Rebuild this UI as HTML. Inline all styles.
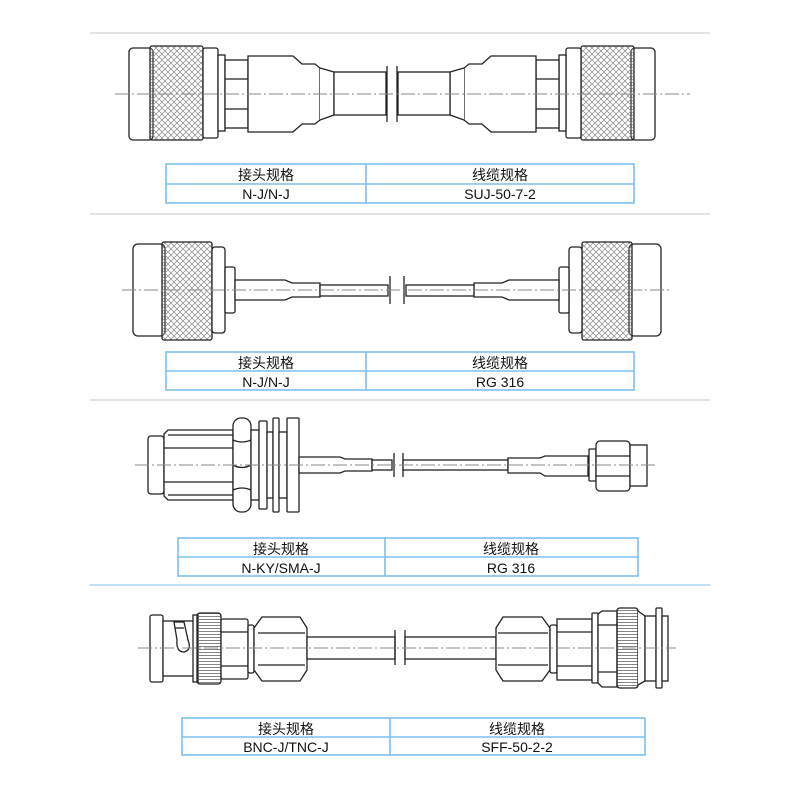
<!DOCTYPE html>
<html><head><meta charset="utf-8"><style>
html,body{margin:0;padding:0;background:#fff}
svg{display:block}
text{font-family:"Liberation Sans","Noto Sans CJK SC",sans-serif;fill:#111}
</style></head><body>
<svg width="800" height="800" viewBox="0 0 800 800" xmlns="http://www.w3.org/2000/svg">
<defs>
<pattern id="kn" width="6" height="6" patternUnits="userSpaceOnUse">
<path d="M0 0L6 6M6 0L0 6" stroke="#888" stroke-width="0.7"/>
</pattern>
<pattern id="rib" width="3" height="3" patternUnits="userSpaceOnUse">
<path d="M0 1.5H3" stroke="#666" stroke-width="0.8"/>
</pattern>
</defs>

<g stroke="#dcdcdc" stroke-width="1.5">
<line x1="90" y1="33" x2="710" y2="33"/>
<line x1="90" y1="214" x2="710" y2="214"/>
<line x1="90" y1="400" x2="710" y2="400"/>
</g>
<line x1="90" y1="585" x2="710" y2="585" stroke="#a8d4f2" stroke-width="1.5"/>

<g fill="#fff" stroke="#222" stroke-width="1.3">
<g id="c1">
<rect x="129" y="48" width="24" height="92" rx="4"/>
<rect x="150" y="46" width="53" height="94" rx="2" fill="url(#kn)"/>
<rect x="203" y="48" width="15" height="90" rx="2"/>
<rect x="218" y="55" width="7" height="76"/>
<rect x="225" y="60" width="23" height="68"/>
<line x1="225" y1="79" x2="248" y2="79"/><line x1="225" y1="109" x2="248" y2="109"/>
<path d="M248 56H293L302 64H315L320 68V120L315 124H302L293 132H248Z"/>
<path d="M320 68L334 72V115L320 120"/>
<rect x="334" y="72" width="52" height="43"/>
<line x1="387" y1="66" x2="387" y2="122"/>
</g>
<use href="#c1" transform="matrix(-1,0,0,1,784,0)"/>

<g id="c2">
<rect x="133" y="244" width="32" height="92" rx="5"/>
<rect x="162" y="242" width="50" height="98" rx="2" fill="url(#kn)"/>
<rect x="212" y="247" width="13" height="86" rx="3"/>
<rect x="225" y="267" width="10" height="46" rx="2"/>
<path d="M235 280H285L292 283H320V297H292L285 300H235Z"/>
<rect x="320" y="285" width="68" height="11"/>
<line x1="390" y1="276" x2="390" y2="304"/>
</g>
<use href="#c2" transform="matrix(-1,0,0,1,794,0)"/>

<rect x="148" y="436" width="16" height="58" rx="3"/>
<path d="M164 434L168 430H233V500H168L164 496Z"/>
<line x1="164" y1="448" x2="233" y2="448"/><line x1="164" y1="482" x2="233" y2="482"/>
<line x1="168" y1="435" x2="233" y2="435"/><line x1="168" y1="495" x2="233" y2="495"/>
<rect x="233" y="418" width="18" height="94" rx="8"/>
<path d="M233 440Q242 444 251 440M233 465Q242 470 251 465M233 490Q242 486 251 490"/>
<rect x="251" y="430" width="8" height="70"/>
<rect x="259" y="421" width="8" height="88" rx="1"/>
<rect x="267" y="432" width="6" height="66"/>
<rect x="273" y="418" width="6" height="94" rx="1"/>
<rect x="279" y="432" width="8" height="66"/>
<rect x="287" y="418" width="12" height="94" rx="1"/>
<path d="M299 457H340L345 459H372V471H345L340 473H299Z"/>
<rect x="372" y="460" width="20" height="10"/>
<line x1="394" y1="453" x2="394" y2="477"/>
<line x1="403" y1="453" x2="403" y2="477"/>
<rect x="403" y="460" width="105" height="10"/>
<path d="M508 458H540L545 456H588V476H545L540 473H508Z"/>
<rect x="589" y="449" width="7" height="32" rx="1"/>
<rect x="596" y="441" width="34" height="50" rx="4"/>
<line x1="596" y1="456" x2="630" y2="456"/><line x1="596" y1="476" x2="630" y2="476"/>
<rect x="630" y="445" width="17" height="41"/>

<rect x="150" y="615" width="13" height="67" rx="2"/>
<rect x="163" y="621" width="32" height="55"/>
<path d="M174 622H184L188 640Q192 650 184 652Q176 652 177 640Z"/>
<line x1="175" y1="628" x2="184" y2="628"/>
<rect x="193" y="615" width="5" height="67"/>
<rect x="197" y="613" width="24" height="71" rx="3" fill="url(#rib)"/>
<rect x="221" y="619" width="27" height="60" rx="2"/>
<line x1="221" y1="632" x2="248" y2="632"/><line x1="221" y1="666" x2="248" y2="666"/>
<rect x="248" y="625" width="6" height="48" rx="2"/>
<path d="M254 628L262 617H300L307 628V670L300 681H262L254 670Z"/>
<line x1="258" y1="633" x2="305" y2="633"/><line x1="258" y1="665" x2="305" y2="665"/>
<rect x="307" y="637" width="88" height="22"/>
<line x1="395" y1="630" x2="395" y2="665"/>
<line x1="405" y1="630" x2="405" y2="665"/>
<rect x="405" y="637" width="91" height="22"/>
<path d="M496 628L503 617H542L550 628V670L542 681H503L496 670Z"/>
<line x1="498" y1="633" x2="548" y2="633"/><line x1="498" y1="665" x2="548" y2="665"/>
<rect x="550" y="625" width="7" height="48" rx="2"/>
<rect x="557" y="619" width="35" height="61"/>
<line x1="557" y1="632" x2="592" y2="632"/><line x1="557" y1="666" x2="592" y2="666"/>
<rect x="592" y="613" width="6" height="70" rx="1"/>
<path d="M598 614L602 611H617V687H602L598 683Z"/>
<line x1="598" y1="625" x2="617" y2="625"/><line x1="598" y1="672" x2="617" y2="672"/>
<rect x="617" y="608" width="21" height="80" rx="3" fill="url(#rib)"/>
<path d="M638 611L645 616V681L638 685"/>
<rect x="645" y="616" width="11" height="65"/>
<rect x="656" y="608" width="6" height="80" rx="1"/>
<rect x="662" y="616" width="6" height="65"/>
</g>

<g stroke="#888" stroke-width="1" stroke-dasharray="14,3,2,3" fill="none">
<line x1="115" y1="94" x2="690" y2="94"/>
<line x1="122" y1="290" x2="672" y2="290"/>
<line x1="135" y1="465" x2="658" y2="465"/>
<line x1="138" y1="648" x2="676" y2="648"/>
</g>

<g fill="none" stroke="#7cc0ef" stroke-width="1.6">
<rect x="166" y="164" width="468" height="39"/><line x1="166" y1="184" x2="634" y2="184"/><line x1="366" y1="164" x2="366" y2="203"/>
<rect x="166" y="352" width="468" height="38"/><line x1="166" y1="371" x2="634" y2="371"/><line x1="366" y1="352" x2="366" y2="390"/>
<rect x="178" y="538" width="460" height="38"/><line x1="178" y1="557" x2="638" y2="557"/><line x1="385" y1="538" x2="385" y2="576"/>
<rect x="182" y="718" width="463" height="37"/><line x1="182" y1="737" x2="645" y2="737"/><line x1="390" y1="718" x2="390" y2="755"/>
</g>
<g font-size="14" text-anchor="middle">
<text x="266" y="180">接头规格</text><text x="500" y="180">线缆规格</text>
<text x="266" y="199">N-J/N-J</text><text x="500" y="199">SUJ-50-7-2</text>
<text x="266" y="368">接头规格</text><text x="500" y="368">线缆规格</text>
<text x="266" y="387">N-J/N-J</text><text x="500" y="387">RG 316</text>
<text x="281" y="554">接头规格</text><text x="511" y="554">线缆规格</text>
<text x="281" y="573">N-KY/SMA-J</text><text x="511" y="573">RG 316</text>
<text x="286" y="734">接头规格</text><text x="517" y="734">线缆规格</text>
<text x="286" y="752">BNC-J/TNC-J</text><text x="517" y="752">SFF-50-2-2</text>
</g>
</svg>
</body></html>
